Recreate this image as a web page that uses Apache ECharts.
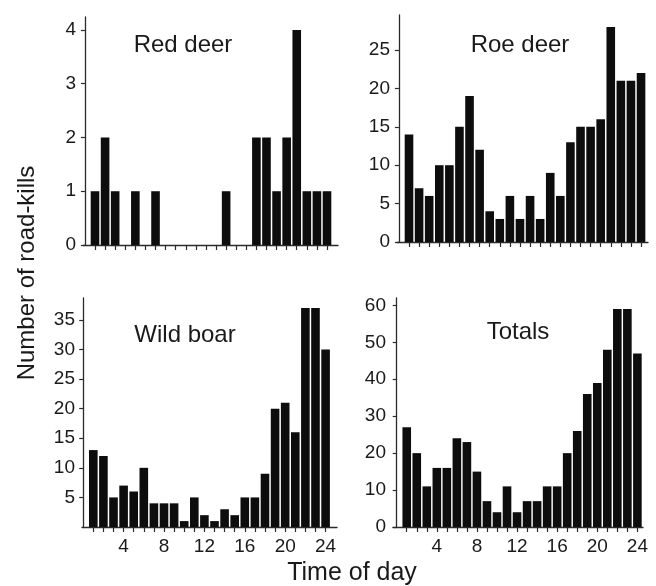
<!DOCTYPE html>
<html>
<head>
<meta charset="utf-8">
<script src="https://cdn.jsdelivr.net/npm/echarts@6/dist/echarts.min.js"></script>
<style>
  html, body { margin: 0; padding: 0; background: #fff; }
  #chart { width: 656px; height: 586px; }
</style>
</head>
<body>
<div id="chart"></div>
<script>
// Hour of day (bins 1..24)
const hours = [1, 2, 3, 4, 5, 6, 7, 8, 9, 10, 11, 12, 13, 14, 15, 16, 17, 18, 19, 20, 21, 22, 23, 24];

// Road-kill counts per hour
const redDeer  = [1, 2, 1, 0, 1, 0, 1, 0, 0, 0, 0, 0, 0, 1, 0, 0, 2, 2, 1, 2, 4, 1, 1, 1];
const roeDeer  = [14, 7, 6, 10, 10, 15, 19, 12, 4, 3, 6, 3, 6, 3, 9, 6, 13, 15, 15, 16, 28, 21, 21, 22];
const wildBoar = [13, 12, 5, 7, 6, 10, 4, 4, 4, 1, 5, 2, 1, 3, 2, 5, 5, 9, 20, 21, 16, 37, 37, 30];
const totals   = [27, 20, 11, 16, 16, 24, 23, 15, 7, 4, 11, 4, 7, 7, 11, 11, 20, 26, 36, 39, 48, 59, 59, 47];

// Tick labels
const hourLabels   = [4, 8, 12, 16, 20, 24];
const redDeerTicks = [0, 1, 2, 3, 4];
const roeDeerTicks = [0, 5, 10, 15, 20, 25];
const wildBoarTicks = [5, 10, 15, 20, 25, 30, 35];
const totalsTicks  = [0, 10, 20, 30, 40, 50, 60];

const panelTitles = ['Red deer', 'Roe deer', 'Wild boar', 'Totals'];

const FONT = "'Liberation Sans', Arial, Helvetica, sans-serif";
const INK = '#1a1a1a';

const panels = [
  { title: panelTitles[0], values: redDeer,  yTicks: redDeerTicks,  xLabels: [],
    grid: { left: 83,  top: 17,  width: 255, height: 228 }, x: [-0.19, 25.09], yMax: 4.24,
    titlePos: [183, 45] },
  { title: panelTitles[1], values: roeDeer,  yTicks: roeDeerTicks,  xLabels: [],
    grid: { left: 397, top: 15,  width: 251, height: 227 }, x: [-0.19, 24.69], yMax: 29.56,
    titlePos: [520, 45] },
  { title: panelTitles[2], values: wildBoar, yTicks: wildBoarTicks, xLabels: hourLabels,
    grid: { left: 82,  top: 298, width: 255, height: 229 }, x: [-0.12, 25.13], yMax: 38.7,
    titlePos: [185, 335] },
  { title: panelTitles[3], values: totals,   yTicks: totalsTicks,   xLabels: hourLabels,
    grid: { left: 393, top: 298, width: 250, height: 229 }, x: [-0.37, 24.56], yMax: 62,
    titlePos: [518, 332] }
];

const axisLine = { show: true, lineStyle: { color: '#2a2a2a', width: 1.3 } };

const option = {
  backgroundColor: '#fff',
  animation: false,
  grid: panels.map(p => Object.assign({ outerBoundsMode: 'none', containLabel: false }, p.grid)),
  xAxis: panels.map((p, i) => ({
    type: 'value',
    gridIndex: i,
    min: p.x[0],
    max: p.x[1],
    axisLine: axisLine,
    splitLine: { show: false },
    axisTick: { show: true, customValues: hours, length: 5, inside: false,
                lineStyle: { color: '#2a2a2a', width: 1.2 } },
    axisLabel: { show: p.xLabels.length > 0, customValues: p.xLabels, margin: 10,
                 fontSize: 19, color: INK, fontFamily: FONT }
  })),
  yAxis: panels.map((p, i) => ({
    type: 'value',
    gridIndex: i,
    min: 0,
    max: p.yMax,
    axisLine: axisLine,
    splitLine: { show: false },
    axisTick: { show: true, customValues: p.yTicks, length: 4,
                lineStyle: { color: '#2a2a2a', width: 1.2 } },
    axisLabel: { customValues: p.yTicks, margin: 7, fontSize: 19, color: INK, fontFamily: FONT }
  })),
  series: panels.map((p, i) => ({
    type: 'bar',
    xAxisIndex: i,
    yAxisIndex: i,
    barWidth: 8.6,
    itemStyle: { color: '#0d0d0d' },
    data: hours.map((h, k) => [h, p.values[k]])
  })),
  graphic: panels.map(p => ({
    type: 'text',
    x: p.titlePos[0],
    y: p.titlePos[1],
    style: { text: p.title, fontSize: 24, fontFamily: FONT, fill: INK,
             textAlign: 'center', textVerticalAlign: 'middle' }
  })).concat([
    {
      type: 'text',
      x: 27, y: 273,
      rotation: Math.PI / 2,
      style: { text: 'Number of road-kills', fontSize: 24, fontFamily: FONT, fill: INK,
               textAlign: 'center', textVerticalAlign: 'middle' }
    },
    {
      type: 'text',
      x: 352, y: 573,
      style: { text: 'Time of day', fontSize: 25, fontFamily: FONT, fill: INK,
               textAlign: 'center', textVerticalAlign: 'middle' }
    }
  ])
};

const chart = echarts.init(document.getElementById('chart'), null, { renderer: 'canvas' });
chart.setOption(option);
</script>
</body>
</html>
